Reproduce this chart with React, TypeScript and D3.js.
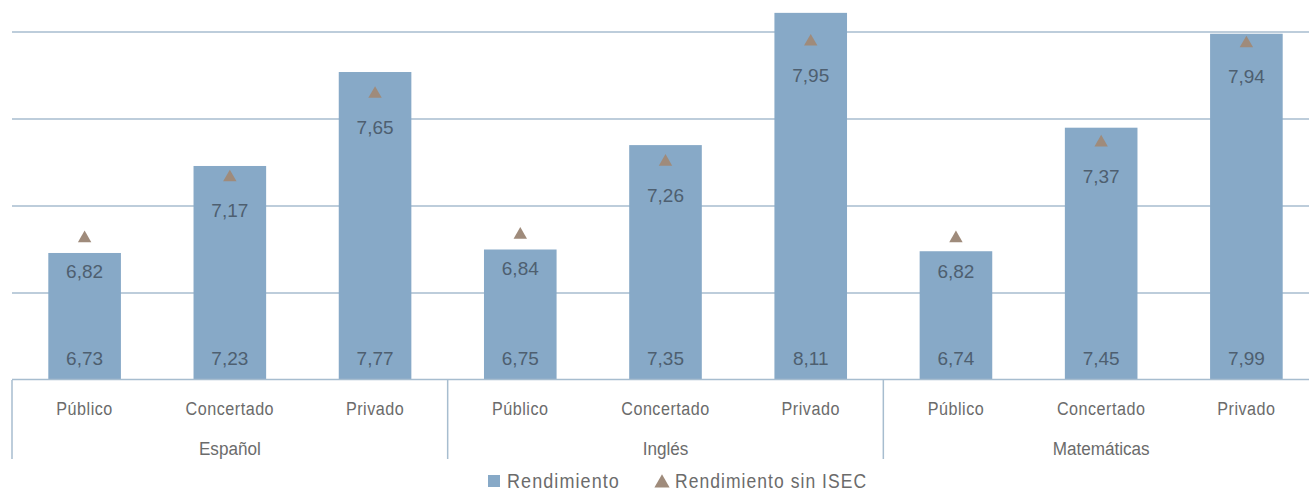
import React from "react";
import * as d3 from "d3";

const groups = ["Español", "Inglés", "Matemáticas"];
const schoolTypes = ["Público", "Concertado", "Privado"];
const rendimiento = [6.73, 7.23, 7.77, 6.75, 7.35, 8.11, 6.74, 7.45, 7.99];
const sinIsec = [6.82, 7.17, 7.65, 6.84, 7.26, 7.95, 6.82, 7.37, 7.94];
const gridTicks = [6.5, 7.0, 7.5, 8.0];
const legendLabels = ["Rendimiento", "Rendimiento sin ISEC"];

const W = 1309;
const H = 492;
const LEFT = 12;
const RIGHT = 1319;
const BASE = 380;

const BAR = "#87a9c7";
const TRI = "#9f8b7b";
const GRID = "#a7bdcf";
const VAL = "#4e5f70";
const LAB = "#6b6b6b";
const SANS = "'Liberation Sans', Arial, sans-serif";

const fmt = (v: number) => v.toFixed(2).replace(".", ",");

export default function App() {
  const keys = d3.range(rendimiento.length).map(String);
  const x = d3.scaleBand<string>().domain(keys).range([LEFT, RIGHT]).paddingInner(0.5).paddingOuter(0.25);
  const y = d3.scaleLinear().domain([6, 8]).range([BASE, 32]);
  const gx = d3.scaleBand<string>().domain(groups).range([LEFT, RIGHT]);
  const tri = d3.symbol().type(d3.symbolTriangle).size(78)();
  const triLegend = d3.symbol().type(d3.symbolTriangle).size(100)();
  const bw = x.bandwidth();

  return (
    <svg width={W} height={H} style={{ position: "absolute", left: 0, top: 0, background: "#fff" }}>
      {gridTicks.map((t) => (
        <line key={t} x1={LEFT} x2={W} y1={y(t)} y2={y(t)} stroke={GRID} strokeWidth={1.5} />
      ))}
      {rendimiento.map((v, i) => {
        const bx = x(String(i))!;
        const cx = bx + bw / 2;
        return (
          <g key={i}>
            <rect x={bx} y={y(v)} width={bw} height={y(6) - y(v)} fill={BAR} />
            <text x={cx} y={BASE - 15} textAnchor="middle" fontFamily={SANS} fontSize={19} fill={VAL}>
              {fmt(v)}
            </text>
          </g>
        );
      })}
      {sinIsec.map((v, i) => {
        const cx = x(String(i))! + bw / 2;
        return (
          <g key={i}>
            <path d={tri!} transform={`translate(${cx},${y(v) + 1})`} fill={TRI} />
            <text x={cx} y={y(v) + 41} textAnchor="middle" fontFamily={SANS} fontSize={19} fill={VAL}>
              {fmt(sinIsec[i])}
            </text>
          </g>
        );
      })}
      <line x1={LEFT} x2={W} y1={BASE - 0.5} y2={BASE - 0.5} stroke={GRID} strokeWidth={1.5} />
      {groups.map((g, gi) => {
        const gx0 = gx(g)!;
        return (
          <g key={g}>
            <line x1={gx0} x2={gx0} y1={BASE} y2={459} stroke={GRID} strokeWidth={1.5} />
            {gi === groups.length - 1 && (
              <line x1={gx0 + gx.bandwidth()} x2={gx0 + gx.bandwidth()} y1={BASE} y2={459} stroke={GRID} strokeWidth={1.5} />
            )}
            <g transform={`translate(${gx0 + gx.bandwidth() / 2},455) scale(0.9,1)`}>
              <text x={0} y={0} textAnchor="middle" fontFamily={SANS} fontSize={19} fill={LAB}>
                {g}
              </text>
            </g>
            {schoolTypes.map((s, si) => {
              const idx = gi * schoolTypes.length + si;
              return (
                <g key={s} transform={`translate(${x(String(idx))! + bw / 2},415) scale(0.85,1)`}>
                  <text x={0} y={0} textAnchor="middle" fontFamily={SANS} fontSize={19} letterSpacing={0.6} fill={LAB}>
                    {s}
                  </text>
                </g>
              );
            })}
          </g>
        );
      })}
      <g>
        <rect x={488} y={475} width={12} height={12} fill={BAR} />
        <g transform="translate(507,488) scale(0.9,1)">
          <text x={0} y={0} fontFamily={SANS} fontSize={20} letterSpacing={1.2} fill={LAB}>
            {legendLabels[0]}
          </text>
        </g>
        <path d={triLegend!} transform="translate(662,483)" fill={TRI} />
        <g transform="translate(675,488) scale(0.875,1)">
          <text x={0} y={0} fontFamily={SANS} fontSize={20} letterSpacing={1.2} fill={LAB}>
            {legendLabels[1]}
          </text>
        </g>
      </g>
    </svg>
  );
}
